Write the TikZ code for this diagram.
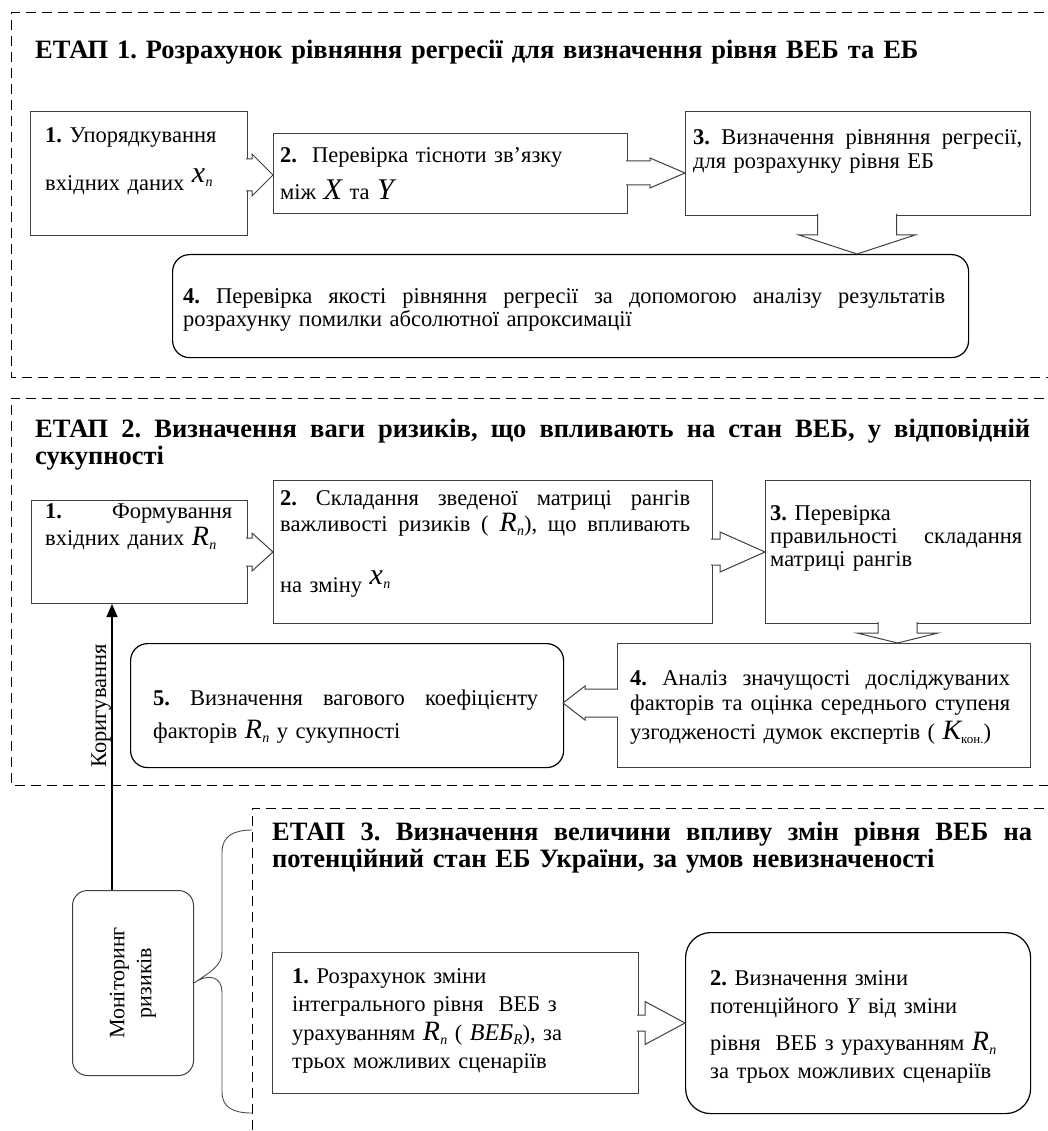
\documentclass[tikz,border=0pt]{standalone}
\usepackage{fontspec}
\setmainfont{Liberation Serif}
\usetikzlibrary{arrows.meta,calc}
\lineskiplimit=-100pt
\lineskip=0pt
\newcommand\bodyf[1]{\fontsize{22.5}{#1}\selectfont}
\newcommand\jl[1]{{\spaceskip=0pt\xspaceskip=0pt\makebox[\hsize][s]{#1}}}
\newcommand\vR{{\fontsize{28}{28}\selectfont\itshape R}\kern0.5pt\raisebox{-4pt}{\fontsize{14}{14}\selectfont\itshape n}}
\newcommand\vX{{\fontsize{30}{30}\selectfont\itshape X}}
\newcommand\vY{{\fontsize{30}{30}\selectfont\itshape Y}}
\newcommand\vxn{\raisebox{8pt}{{\fontsize{30}{30}\selectfont\itshape x}\kern0.5pt\raisebox{-4pt}{\fontsize{14}{14}\selectfont\itshape n}}}
\newcommand\vK{{\fontsize{28}{28}\selectfont\itshape K}\raisebox{-4pt}{\fontsize{13}{13}\selectfont кон.}}
\newcommand\vVEB{{\fontsize{24}{24}\selectfont\itshape ВЕБ}\raisebox{-4pt}{\fontsize{15}{15}\selectfont\itshape R}}
\newcommand\boxnode[6]{\node[#2, anchor=north west, minimum width={(#5-#3)*1pt}, minimum height={(#6-#4)*1pt}] (#1) at (#3,#4) {};}
\newcommand\fatH[6]{\path[fat] ({#1},{#4-#5}) -- ({#2},{#4-#5}) -- ({#2},{#4-#6}) -- ({#3},{#4}) -- ({#2},{#4+#6}) -- ({#2},{#4+#5}) -- ({#1},{#4+#5});}
\newcommand\fatV[6]{\path[fat] ({#4-#5},{#1}) -- ({#4-#5},{#2}) -- ({#4-#6},{#2}) -- ({#4},{#3}) -- ({#4+#6},{#2}) -- ({#4+#5},{#2}) -- ({#4+#5},{#1});}
\tikzset{
  frame/.style={draw=black, line width=1pt, dash pattern=on 10pt off 6pt},
  sqbox/.style={draw=black!75, line width=1pt, rectangle, inner sep=0pt},
  rbox/.style={draw=black, line width=1.2pt, rectangle, rounded corners=17pt, inner sep=0pt},
  monbox/.style={draw=black!75, line width=1pt, rectangle, rounded corners=15pt, inner sep=0pt},
  fat/.style={draw=black!75, line width=1pt, fill=white},
  txt/.style={inner sep=0pt, anchor=base west, align=left},
  ttl/.style={inner sep=0pt, anchor=base west, align=left, font=\fontsize{26.5}{27}\selectfont\bfseries},
  brace/.style={draw=black!70, line width=0.9pt},
}
\begin{document}
\frenchspacing
\begin{tikzpicture}[x=1pt,y=-1pt]
\useasboundingbox (0,0) rectangle (1048,1131);
\clip (0,0) rectangle (1048,1131);
% stage frames
\draw[frame] (1060,13) -- (11,13) -- (11,377) -- (1060,377);
\draw[frame] (1060,398) -- (11,398) -- (11,785) -- (1060,785);
\draw[frame] (1060,808) -- (252,808) -- (252,1140);
% titles
\node[ttl, text width=1000pt] (t1) at (35,59) {ЕТАП 1. Розрахунок рівняння регресії для визначення рівня ВЕБ та ЕБ};
\node[ttl, text width=995pt] (t2) at (35,437) {\jl{ЕТАП 2. Визначення ваги ризиків, що впливають на стан ВЕБ, у відповідній}\\сукупності};
\node[ttl, text width=760pt] (t3) at (272,840) {\jl{ЕТАП 3. Визначення величини впливу змін рівня ВЕБ на}\\потенційний стан ЕБ України, за умов невизначеності};
% stage 1 boxes
\boxnode{s1b1}{sqbox}{30}{111}{247}{235}
\boxnode{s1b2}{sqbox}{273}{133}{627}{213}
\boxnode{s1b3}{sqbox}{685}{111}{1030}{215}
\boxnode{s1b4}{rbox}{172}{254}{968}{357}
% stage 2 boxes
\boxnode{s2b1}{sqbox}{31}{500}{247}{603}
\boxnode{s2b2}{sqbox}{273}{480}{712}{623}
\boxnode{s2b3}{sqbox}{765}{480}{1030}{623}
\boxnode{s2b4}{sqbox}{617}{643}{1030}{767}
\boxnode{s2b5}{rbox}{130}{643}{563}{767}
% stage 3 boxes
\boxnode{s3b1}{sqbox}{272}{952}{638}{1093}
\boxnode{s3b2}{rbox, rounded corners=25pt}{685}{932}{1030}{1113}
\boxnode{mon}{monbox}{72}{890}{193}{1075}
% fat arrows
\fatH{246}{252}{273}{175}{16}{21}
\fatH{626}{650}{685}{173}{12}{15}
\fatV{214}{235}{254}{857}{39.5}{58}
\fatH{246}{252}{273}{552}{14}{19}
\fatH{711}{720}{765}{552}{13}{20}
\fatV{622}{633}{643}{897.5}{19.5}{40.5}
\fatH{618}{585}{563}{703}{14}{17}
\fatH{637}{645}{685}{1023}{8}{21.5}
% texts stage 1
\node[txt, text width=200pt, font=\bodyf{48}] (s1t1) at (45,143) {\textbf{1.} Упорядкування\\вхідних даних \vxn};
\node[txt, text width=340pt, font=\bodyf{37}] (s1t2) at (280,163) {\textbf{2.}\ \ Перевірка тісноти зв’язку\\між \vX{} та \vY};
\node[txt, text width=329pt, font=\bodyf{24}] (s1t3) at (693,145) {\jl{\textbf{3.} Визначення рівняння регресії,}\\для розрахунку рівня ЕБ};
\node[txt, text width=762pt, font=\bodyf{24}] (s1t4) at (183,303) {\jl{\textbf{4.} Перевірка якості рівняння регресії за допомогою аналізу результатів}\\розрахунку помилки абсолютної апроксимації};
% texts stage 2
\node[txt, text width=187pt, font=\bodyf{27}] (s2t1) at (45,518) {\jl{\textbf{1.} Формування}\\вхідних даних \vR};
\node[txt, text width=410pt, font=\bodyf{26}] (s2t2) at (280,505) {\jl{\textbf{2.} Складання зведеної матриці рангів}\\\jl{важливості ризиків ( \vR ), що впливають}\\[34pt]на зміну \vxn};
\node[txt, text width=252pt, font=\bodyf{23}] (s2t3) at (770,520) {\textbf{3.} Перевірка\\\jl{правильності складання}\\матриці рангів};
\node[txt, text width=380pt, font=\bodyf{25}] (s2t4) at (630,685) {\jl{\textbf{4.} Аналіз значущості досліджуваних}\\\jl{факторів та оцінка середнього ступеня}\\[4pt]узгодженості думок експертів ( \vK )};
\node[txt, text width=385pt, font=\bodyf{33}] (s2t5) at (153,705) {\jl{\textbf{5.} Визначення вагового коефіцієнту}\\факторів \vR{} у сукупності};
% texts stage 3
\node[txt, text width=340pt, font=\bodyf{28.5}] (s3t1) at (292,983) {\textbf{1.} Розрахунок зміни\\інтегрального рівня \ ВЕБ з\\урахуванням \vR{} ( \vVEB ), за\\трьох можливих сценаріїв};
\node[txt, text width=315pt, font=\bodyf{28}] (s3t2) at (710,985) {\textbf{2.} Визначення зміни\\потенційного \textit{Y} від зміни\\[9pt]рівня \ ВЕБ з урахуванням \vR\\[0pt]за трьох можливих сценаріїв};
% monitoring
\node[rotate=90, align=center, font=\fontsize{22}{27}\selectfont, inner sep=0pt] (montxt) at (mon.center) {Моніторинг\\ризиків};
\coordinate (korx) at (112,0);
\draw[line width=1.5pt, -{Triangle[length=13pt,width=11pt]}] (mon.north -| korx) -- (s2b1.south -| korx);
\node[rotate=90, anchor=base, font=\bodyf{24}, inner sep=0pt] (kor) at (106,706) {Коригування};
% brace
\draw[brace] (252,830) .. controls (234,830) and (222,836) .. (222,852) -- (222,952) .. controls (222,966) and (210,972) .. (mon.east) .. controls (210,972) and (222,978) .. (222,992) -- (222,1092) .. controls (222,1108) and (234,1113) .. (252,1113);
\end{tikzpicture}
\end{document}
